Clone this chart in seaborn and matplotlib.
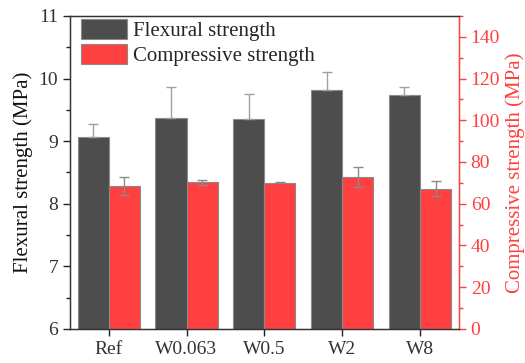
import numpy as np
import pandas as pd
import matplotlib
matplotlib.use("Agg")
import matplotlib.pyplot as plt
import seaborn as sns
from matplotlib.patches import Patch
from matplotlib.ticker import MultipleLocator

sns.set_style("ticks")
plt.rcParams['font.family'] = ['Liberation Serif', 'DejaVu Serif']

categories = ["Ref", "W0.063", "W0.5", "W2", "W8"]
flexural = [9.06, 9.375, 9.36, 9.82, 9.73]
flexural_err = [0.22, 0.49, 0.40, 0.29, 0.13]
compressive = [68.5, 70.3, 70.0, 72.8, 67.2]
compressive_err = [4.2, 1.2, 0.3, 4.6, 3.5]
series = ["Flexural strength", "Compressive strength"]

dark = "#4d4d4d"
red = "#ff4040"
edge = "#8a8a8a"

df_f = pd.DataFrame({"cat": categories + categories,
                     "series": [series[0]] * 5 + [series[1]] * 5,
                     "val": flexural + [np.nan] * 5})
df_c = pd.DataFrame({"cat": categories + categories,
                     "series": [series[0]] * 5 + [series[1]] * 5,
                     "val": [np.nan] * 5 + compressive})

fig = plt.figure(figsize=(5.25, 3.63), dpi=100)
ax = fig.add_axes([0.133, 0.094, 0.741, 0.862])
ax2 = ax.twinx()

pal = {series[0]: dark, series[1]: red}
sns.barplot(data=df_f, x="cat", y="val", hue="series", hue_order=series,
            order=categories, palette=pal, width=0.8, errorbar=None,
            saturation=1, edgecolor=edge, linewidth=0.8, ax=ax, legend=False)
sns.barplot(data=df_c, x="cat", y="val", hue="series", hue_order=series,
            order=categories, palette=pal, width=0.8, errorbar=None,
            saturation=1, edgecolor=edge, linewidth=0.8, ax=ax2, legend=False)

fx = [p.get_x() + p.get_width() / 2 for p in ax.patches if not np.isnan(p.get_height()) and p.get_height() > 0][:5]
cx = [p.get_x() + p.get_width() / 2 for p in ax2.patches if not np.isnan(p.get_height()) and p.get_height() > 0][:5]
ax.errorbar(fx, flexural, yerr=[np.zeros(5), flexural_err], fmt="none",
            ecolor="#a0a0a0", elinewidth=1, capsize=3.5, capthick=1, zorder=1)
ax2.errorbar(cx, compressive, yerr=compressive_err, fmt="none",
             ecolor="#8a8a8a", elinewidth=1, capsize=3.5, capthick=1, zorder=5)

ax.set_xlim(-0.5, 4.5)
ax.set_ylim(6, 11)
ax2.set_ylim(0, 150)
ax.yaxis.set_major_locator(MultipleLocator(1))
ax.yaxis.set_minor_locator(MultipleLocator(0.5))
ax2.yaxis.set_major_locator(MultipleLocator(20))
ax2.yaxis.set_minor_locator(MultipleLocator(10))
ax2.set_yticks(range(0, 141, 20))

ax.set_xlabel("")
ax.set_ylabel("Flexural strength (MPa)", fontsize=15, color="#111111", labelpad=4)
ax2.set_ylabel("Compressive strength (MPa)", fontsize=15, color=red, labelpad=4)

ax.tick_params(axis="both", which="major", labelsize=14, length=5, width=1,
               direction="out", colors="#222222", labelcolor="#333333")
ax.tick_params(axis="y", which="minor", length=3, width=1, colors="#222222")
ax2.tick_params(axis="y", which="major", labelsize=14, length=5, width=1,
                colors=red, labelcolor=red)
ax2.tick_params(axis="y", which="minor", length=3, width=1, colors=red)

for s in ["left", "top", "bottom"]:
    ax2.spines[s].set_color("#333333")
    ax2.spines[s].set_linewidth(1)
ax2.spines["right"].set_color(red)
ax2.spines["right"].set_linewidth(1)
ax.spines["left"].set_color("#333333")
ax.spines["bottom"].set_color("#333333")

handles = [Patch(facecolor=dark, edgecolor=edge, linewidth=0.8),
           Patch(facecolor=red, edgecolor=edge, linewidth=0.8)]
leg = ax2.legend(handles, series, loc="upper left", bbox_to_anchor=(0.03, 0.99),
                 fontsize=15, frameon=False, handlelength=2.2, handleheight=1.1,
                 labelspacing=0.12, handletextpad=0.25, borderpad=0,
                 borderaxespad=0)

fig.savefig("out.png", dpi=100)
